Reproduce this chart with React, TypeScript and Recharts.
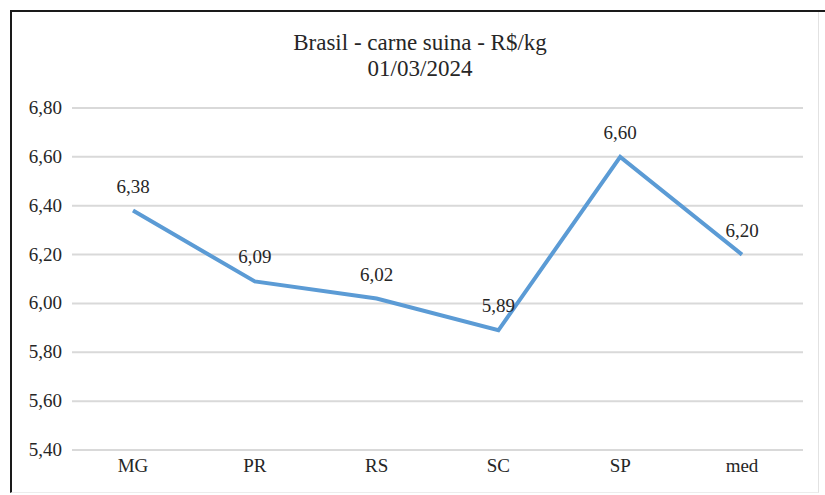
import { CartesianGrid, LabelList, Line, LineChart, XAxis, YAxis } from 'recharts';

const categories = ['MG', 'PR', 'RS', 'SC', 'SP', 'med'];
const prices = [6.38, 6.09, 6.02, 5.89, 6.6, 6.2];
const yTicks = [5.4, 5.6, 5.8, 6.0, 6.2, 6.4, 6.6, 6.8];

const FONT = "'Liberation Serif', 'Times New Roman', 'DejaVu Serif', serif";
const INK = '#262626';

const fmt = (v: number) => v.toFixed(2).replace('.', ',');

function XTick({ x, y, payload }: any) {
  return (
    <text x={x} y={y + 14} textAnchor="middle" fontSize={19} fill={INK} fontFamily={FONT}>
      {payload.value}
    </text>
  );
}

function YTick({ x, y, payload }: any) {
  return (
    <text x={x} y={y + 6} textAnchor="end" fontSize={19} fill={INK} fontFamily={FONT}>
      {fmt(payload.value)}
    </text>
  );
}

export default function App() {
  const data = categories.map((name, i) => ({ name, value: prices[i] }));

  return (
    <div style={{ position: 'fixed', left: 0, top: 0, width: 825, height: 495, background: '#fff', fontFamily: FONT }}>
      {/* outer frame: dark top/left edge, faint right/bottom edge */}
      <div
        style={{
          position: 'absolute',
          left: 10,
          top: 10,
          width: 806,
          height: 482,
          borderLeft: '2px solid #1a1a1a',
          borderRight: '1px solid #e2e2e2',
          borderBottom: '1px solid #ececec',
        }}
      />
      <div style={{ position: 'absolute', left: 10, top: 10, width: 815, height: 2, background: '#1a1a1a' }} />
      <div
        style={{
          position: 'absolute',
          left: 220,
          top: 30,
          width: 400,
          textAlign: 'center',
          fontSize: 23,
          lineHeight: '26px',
          color: INK,
          fontFamily: FONT,
        }}
      >
        <div>Brasil - carne suina - R$/kg</div>
        <div>01/03/2024</div>
      </div>
      <div style={{ position: 'absolute', left: 0, top: 0 }}>
        <LineChart width={825} height={495} data={data} margin={{ top: 108, right: 22, bottom: 15, left: 0 }}>
          <CartesianGrid vertical={false} stroke="#d9d9d9" strokeWidth={2} />
          <XAxis
            dataKey="name"
            axisLine={false}
            tickLine={false}
            padding={{ left: 61, right: 61 }}
            height={30}
            tick={<XTick />}
          />
          <YAxis
            width={72}
            domain={[5.4, 6.8]}
            ticks={yTicks}
            axisLine={false}
            tickLine={false}
            tickMargin={4}
            tick={<YTick />}
          />
          <Line
            type="linear"
            dataKey="value"
            stroke="#5b9bd5"
            strokeWidth={4}
            dot={false}
            isAnimationActive={false}
          >
            <LabelList
              dataKey="value"
              position="top"
              offset={18}
              formatter={(v: number) => fmt(v)}
              style={{ fontSize: 19, fill: INK, fontFamily: FONT }}
            />
          </Line>
        </LineChart>
      </div>
    </div>
  );
}
